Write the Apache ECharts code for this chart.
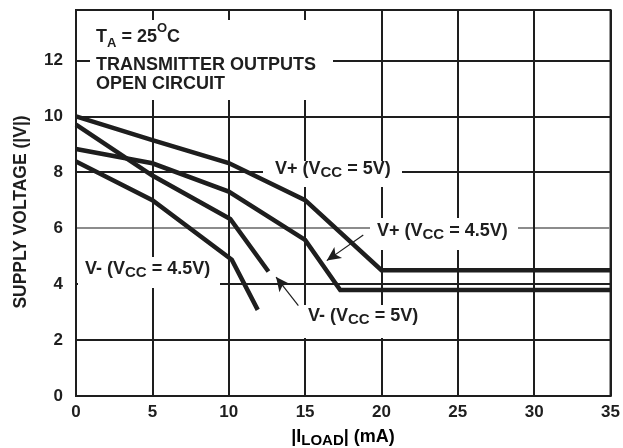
<!DOCTYPE html>
<html>
<head>
<meta charset="utf-8">
<script src="https://cdn.jsdelivr.net/npm/echarts@6/dist/echarts.min.js"></script>
<style>
html,body{margin:0;padding:0;background:#fff;}
#chart{width:623px;height:448px;}
</style>
</head>
<body>
<div id="chart"></div>
<script>
// ---- data ----
const xTicks = [0, 5, 10, 15, 20, 25, 30, 35];
const yTicks = [0, 2, 4, 6, 8, 10, 12];

const vPlus5X  = [0, 5, 10, 15, 20, 35];
const vPlus5Y  = [10.0, 9.15, 8.33, 7.0, 4.5, 4.5];

const vPlus45X = [0, 5, 10, 15, 17.3, 35];
const vPlus45Y = [8.83, 8.32, 7.31, 5.58, 3.79, 3.79];

const vMinus5X = [0, 5, 10.1, 12.6];
const vMinus5Y = [9.7, 7.88, 6.33, 4.45];

const vMinus45X = [0, 5, 10.2, 11.9];
const vMinus45Y = [8.38, 7.0, 4.87, 3.08];

// arrow [tail, tip] in data units
const arrowVPlus45 = [[18.81, 5.76], [16.42, 4.84]];
const arrowVMinus5 = [[14.56, 3.23], [13.1, 4.25]];

const INK = '#1e1e1e';
const zip = (xs, ys) => xs.map((x, i) => [x, ys[i]]);

const chart = echarts.init(document.getElementById('chart'), null, {renderer: 'canvas'});

const FONT = 'Liberation Sans, Arial, sans-serif';
const richStyles = {
  m: {fontSize: 18, fontWeight: 'bold', fontFamily: FONT, lineHeight: 20, verticalAlign: 'top', color: INK},
  s: {fontSize: 15, fontWeight: 'bold', fontFamily: FONT, lineHeight: 20, verticalAlign: 'top', padding: [5, 0, 0, 0], color: INK}
};

function lbl(x, top, text, extraRich) {
  return {
    type: 'text', x: x, y: top, z: 5,
    style: {text: text, rich: Object.assign({}, richStyles, extraRich || {}), fill: INK, verticalAlign: 'top', align: 'left', font: 'bold 18px ' + FONT}
  };
}
function box(x1, y1, x2, y2) {
  return {type: 'rect', z: 1, silent: true, shape: {x: x1, y: y1, width: x2 - x1, height: y2 - y1}, style: {fill: '#fff'}};
}

const lineSeries = (name, data) => ({
  name: name, type: 'line', data: data, showSymbol: false, symbol: 'none', z: 3,
  lineStyle: {color: INK, width: 4.5, cap: 'butt', join: 'miter'}, animation: false
});

const yLineColors = yTicks.map(v => v === 6 ? '#8c8c8c' : INK).concat([INK]);

chart.setOption({
  animation: false,
  backgroundColor: '#fff',
  grid: {left: 76, right: 11, top: 10, bottom: 52, show: true, borderColor: INK, borderWidth: 2, backgroundColor: 'transparent'},
  xAxis: {
    type: 'value', min: xTicks[0], max: xTicks[xTicks.length - 1], interval: 5,
    axisLine: {show: true, lineStyle: {color: INK, width: 2}},
    axisTick: {show: false},
    axisLabel: {color: INK, fontSize: 17, fontWeight: 'bold', fontFamily: FONT, margin: 8},
    splitLine: {show: true, lineStyle: {color: INK, width: 2}}
  },
  yAxis: {
    type: 'value', min: yTicks[0], max: 13.8, interval: 2,
    axisLine: {show: true, lineStyle: {color: INK, width: 2}},
    axisTick: {show: false},
    axisLabel: {color: INK, fontSize: 17, fontWeight: 'bold', fontFamily: FONT, margin: 13, showMaxLabel: false},
    splitLine: {show: true, lineStyle: {color: yLineColors, width: 2}}
  },
  series: [
    lineSeries('V+ (VCC = 5V)', zip(vPlus5X, vPlus5Y)),
    lineSeries('V+ (VCC = 4.5V)', zip(vPlus45X, vPlus45Y)),
    lineSeries('V- (VCC = 5V)', zip(vMinus5X, vMinus5Y)),
    lineSeries('V- (VCC = 4.5V)', zip(vMinus45X, vMinus45Y)),
    {
      type: 'line', data: [], z: 4,
      markLine: {
        silent: true, animation: false,
        symbol: ['none', 'arrow'], symbolSize: [10, 14],
        label: {show: false},
        lineStyle: {color: INK, width: 1.2, type: 'solid'},
        emphasis: {disabled: true},
        data: [
          [{coord: arrowVPlus45[0]}, {coord: arrowVPlus45[1]}],
          [{coord: arrowVMinus5[0]}, {coord: arrowVMinus5[1]}]
        ]
      }
    }
  ],
  graphic: [
    box(90, 20, 333, 100),
    box(263, 161, 402, 187),
    box(370, 218, 518, 250),
    box(300, 305, 430, 338),
    box(78, 257, 220, 288),
    lbl(96, 22, '{m|T}{a|A}{m| = 25}{o|O}{m|C}', {
      m: {fontSize: 18, fontWeight: 'bold', fontFamily: FONT, lineHeight: 20, verticalAlign: 'top', padding: [6, 0, 0, 0], color: INK},
      a: {fontSize: 13, fontWeight: 'bold', fontFamily: FONT, lineHeight: 16, verticalAlign: 'top', padding: [15, 0, 0, 0], color: INK},
      o: {fontSize: 13, fontWeight: 'bold', fontFamily: FONT, lineHeight: 14, verticalAlign: 'top', padding: [0, 0, 0, 0], color: INK}
    }),
    lbl(96, 56, '{m|TRANSMITTER OUTPUTS}'),
    lbl(96, 75, '{m|OPEN CIRCUIT}'),
    lbl(275, 160, '{m|V+ (V}{s|CC}{m| = 5V)}'),
    lbl(377, 222, '{m|V+ (V}{s|CC}{m| = 4.5V)}'),
    lbl(308, 307, '{m|V- (V}{s|CC}{m| = 5V)}'),
    lbl(85, 260, '{m|V- (V}{s|CC}{m| = 4.5V)}'),
    // x axis title
    {
      type: 'text', x: 343, y: 428, z: 5,
      style: {
        text: '{m||I}{s|LOAD}{m|| (mA)}', align: 'center', verticalAlign: 'top',
        rich: {
          m: {fontSize: 18, fontWeight: 'bold', fontFamily: FONT, lineHeight: 20, verticalAlign: 'top', color: INK},
          s: {fontSize: 15, fontWeight: 'bold', fontFamily: FONT, lineHeight: 20, verticalAlign: 'top', padding: [5, 0, 0, 0], color: INK}
        }
      }
    },
    // y axis title
    {
      type: 'text', x: 21, y: 212, rotation: Math.PI / 2, z: 5,
      style: {text: 'SUPPLY VOLTAGE (|V|)', align: 'center', verticalAlign: 'middle', fill: INK, font: 'bold 17.5px ' + FONT}
    }
  ]
});
</script>
</body>
</html>
